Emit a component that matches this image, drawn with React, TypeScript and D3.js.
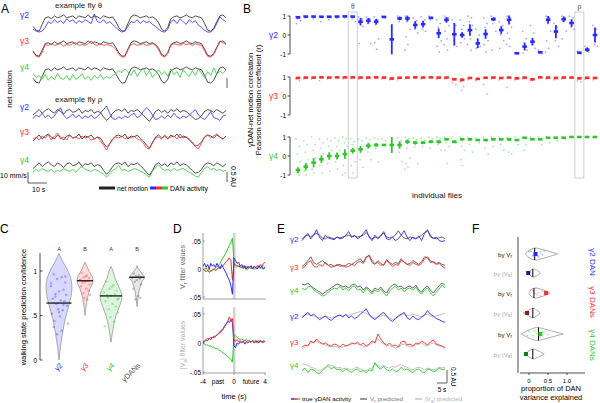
import React from "react";
import * as d3 from "d3";

const FONT = "'Liberation Sans', Arial, Helvetica, sans-serif";
const BLUE = "#2b2bff";
const RED = "#ff2b2b";
const GREEN = "#2ec82e";
const DARK = "#222";

// ---------------- Panel A: normalized traces ----------------
const NET_THETA = [0.35,0.15,0.1,0.45,0.8,0.85,0.75,0.9,0.8,0.85,0.95,0.8,0.85,0.9,0.75,0.9,0.85,0.8,0.95,0.8,0.9,0.85,0.75,0.9,0.85,0.8,0.85,0.6,0.3,0.1,0.12,0.5,0.85,0.95,0.9,0.8,0.85,0.9,0.8,0.85,0.75,0.55,0.2,0.1,0.3,0.75,0.85,0.9,0.8,0.85,0.95,0.85,0.8,0.9,0.85,0.8,0.5,0.15,0.1,0.25,0.6,0.9,0.95,0.8];
const G2_THETA = [0.2,0.1,0.05,0.1,0.3,0.6,0.5,0.7,0.55,0.65,0.5,0.75,0.6,0.7,0.5,0.65,0.55,0.7,0.6,0.5,1.0,0.6,0.55,0.7,0.5,0.6,0.45,0.3,0.15,0.05,0.1,0.35,0.6,0.55,0.7,0.5,0.65,0.55,0.6,0.45,0.35,0.2,0.08,0.05,0.2,0.6,0.7,0.5,0.75,0.6,0.45,0.7,0.55,0.65,0.4,0.3,0.15,0.05,0.05,0.2,0.5,0.85,0.7,0.6];
const G3_THETA = [0.4,0.1,0.05,0.3,0.75,0.7,0.8,0.7,0.75,0.8,0.65,0.75,0.7,0.8,0.85,0.7,0.75,0.7,0.8,0.95,0.75,0.7,0.8,0.7,0.75,0.7,0.65,0.5,0.2,0.05,0.08,0.45,0.75,0.8,0.7,0.75,0.8,0.7,0.75,0.8,0.7,0.45,0.12,0.05,0.25,0.7,0.8,0.75,0.7,0.8,0.75,0.8,0.7,0.8,0.75,0.7,0.4,0.1,0.05,0.2,0.55,0.95,0.85,0.75];
const G4_THETA = [0.6,0.4,0.5,0.3,0.55,0.25,0.45,0.3,0.6,0.35,0.3,0.5,0.25,0.55,0.3,0.4,0.6,0.3,0.45,0.25,0.5,0.35,0.55,0.3,0.45,0.35,0.5,0.6,0.75,0.65,0.85,0.7,0.5,0.8,0.45,0.7,0.9,0.5,0.75,0.4,0.6,0.8,0.55,0.7,0.45,0.85,0.55,0.7,0.4,0.8,0.6,0.45,0.75,0.5,0.85,0.6,0.4,0.7,0.5,0.9,0.55,0.75,0.6,0.8];
const NET_RHO = [0.5,0.65,0.8,0.6,0.75,0.85,0.7,0.6,0.8,0.7,0.55,0.75,0.8,0.65,0.7,0.85,0.6,0.75,0.7,0.8,0.6,0.7,0.65,0.4,0.2,0.35,0.6,0.75,0.8,0.7,0.85,0.6,0.75,0.7,0.8,0.65,0.5,0.3,0.15,0.4,0.7,0.8,0.65,0.75,0.6,0.8,0.7,0.85,0.65,0.75,0.7,0.55,0.4,0.25,0.3,0.45,0.7,0.8,0.75,0.65,0.8,0.7,0.6,0.75];
const G2_RHO = [0.3,0.5,0.4,0.6,0.35,0.5,0.3,0.45,0.7,0.9,0.5,0.3,0.4,0.55,0.35,0.5,0.3,0.45,0.35,0.5,0.3,0.4,0.6,0.8,1.0,0.6,0.3,0.25,0.4,0.3,0.45,0.35,0.5,0.6,0.35,0.45,0.7,0.9,0.75,0.5,0.25,0.3,0.45,0.3,0.5,0.35,0.6,0.4,0.3,0.45,0.35,0.5,0.65,0.8,0.5,0.35,0.25,0.45,0.7,0.35,0.3,0.2,0.45,0.5];
const G3_RHO = [0.6,0.7,0.55,0.75,0.65,0.8,0.55,0.75,0.9,0.6,0.7,0.55,0.8,0.65,0.7,0.6,0.75,0.65,0.7,0.55,0.6,0.7,0.5,0.3,0.05,0.35,0.6,0.7,0.65,0.75,0.6,0.7,0.65,0.75,0.6,0.55,0.4,0.15,0.1,0.45,0.65,0.7,0.6,0.8,0.65,0.7,0.75,0.6,0.85,0.65,0.7,0.6,0.45,0.2,0.1,0.4,0.7,0.8,0.65,0.75,0.85,0.7,0.6,0.75];
const G4_RHO = [0.3,0.45,0.35,0.5,0.4,0.35,0.45,0.3,0.4,0.35,0.5,0.4,0.35,0.45,0.3,0.5,0.6,0.45,0.4,0.35,0.45,0.4,0.3,0.2,0.05,0.2,0.4,0.5,0.65,0.4,0.45,0.35,0.4,0.5,0.45,0.35,0.3,0.15,0.05,0.35,0.55,0.7,0.5,0.4,0.45,0.35,0.5,0.4,0.45,0.5,0.4,0.3,0.2,0.1,0.05,0.3,0.5,0.6,0.45,0.5,0.4,0.45,0.35,0.4];

// ---------------- Panel B: per-fly correlations ----------------
const B2_MEAN = [0.93,0.97,0.97,0.96,0.96,0.97,0.98,0.97,0.7,0.75,0.7,0.95,-0.23,0.87,0.87,0.53,0.57,0.9,0.09,0.8,0.04,0.0,0.26,-0.44,0.05,0.83,0.26,0.8,-0.96,-0.61,-0.35,-0.91,0.8,0.18,0.83,0.63,-0.93,-0.77,0.0];
const B2_ERR = [0.05,0.03,0.03,0.03,0.03,0.03,0.03,0.03,0.2,0.15,0.15,0.03,0.8,0.1,0.15,0.2,0.18,0.06,0.25,0.15,0.6,0.15,0.3,0.25,0.25,0.1,0.2,0.25,0.03,0.2,0.2,0.05,0.2,0.35,0.15,0.2,0.04,0.12,0.4];
const B2_DOTS = [[0.98,0.9,0.85,0.75,0.6],[0.99,0.95,0.9],[0.99,0.96,0.85],[0.98,0.95,0.7],[0.99,0.92,0.8],[0.99,0.95,0.88],[0.99,0.96,0.9],[0.99,0.95,0.85,0.7],[0.95,0.85,0.6,0.45,-0.45],[0.95,0.85,0.6,-0.45],[0.95,0.8,0.55,-0.2,-0.4,-0.75],[0.99,0.9],[],[0.99,0.92,0.7],[0.99,0.9,0.7,0.3,-0.1,-0.5,-0.8],[0.9,0.75,0.3,0.1],[0.95,0.8,0.3,0.2],[0.99,0.92,0.8],[0.8,0.6,0.4,-0.3,-0.6,-0.9],[0.99,0.9,0.7,0.5,0.2,-0.2,-0.5,-0.8],[0.8,0.5,-0.3,-0.6],[0.8,0.5,0.3,-0.2,-0.4],[0.99,0.9,0.7,0.5,0.2,-0.2,-0.5,-0.8],[0.3,0.0,-0.2,-0.6,-0.7],[0.9,0.6,0.4,-0.3,-0.5,-0.9],[0.99,0.9,0.6,0.2,-0.8],[0.7,0.5,0.0,-0.3,-0.7],[0.99,0.9,0.7,0.4,0.1,-0.2,-0.5,-0.6],[-0.93,-0.99],[0.2,-0.2,-0.4,-0.8,-0.95],[0.5,0.1,-0.5,-0.7],[-0.8,-0.98],[0.99,0.9,0.6,0.2,-0.3,-0.7,-0.9],[0.6,0.4,-0.3,-0.6],[0.99,0.9,0.7,0.2,-0.2],[0.99,0.9,0.4,0.3],[-0.85,-0.99],[-0.6,-0.9],[0.5,0.3,-0.5,-0.6]];
const B3_MEAN = [0.95,0.97,0.97,0.98,0.97,0.98,0.98,0.98,0.97,0.97,0.98,0.97,0.92,0.96,0.97,0.98,0.97,0.98,0.97,0.97,0.88,0.85,0.95,0.9,0.96,0.97,0.95,0.97,0.93,0.97,0.88,0.98,0.97,0.95,0.97,0.97,0.93,0.96,0.95];
const B3_ERR = [0.05,0.03,0.03,0.03,0.03,0.03,0.03,0.03,0.04,0.03,0.03,0.03,0.05,0.04,0.03,0.03,0.03,0.03,0.04,0.04,0.06,0.08,0.04,0.05,0.04,0.03,0.04,0.03,0.05,0.03,0.06,0.03,0.03,0.04,0.03,0.03,0.05,0.04,0.04];
const B3_DOTS = [[0.9,0.8],[0.9],[0.88],[0.8],[0.9],[],[0.9],[0.92],[0.88],[0.9],[],[0.9],[0.85],[0.85],[0.9],[],[0.9],[],[0.88],[0.9],[0.7,0.6],[0.75,0.5,0.3],[0.85],[0.8],[0.6,0.1],[0.88],[0.85],[0.45],[0.85],[0.9],[0.8],[],[0.9],[0.85],[0.9],[],[0.8,0.75],[0.88],[0.85]];
const B4_MEAN = [-0.74,-0.56,-0.35,-0.17,0,0,0.1,0.28,0.35,0.54,0.58,0.58,0.58,0.58,0.75,0.7,0.7,0.75,0.75,0.88,0.75,0.88,0.88,0.84,0.84,0.88,0.88,0.88,0.84,0.96,0.88,0.88,0.96,0.96,0.96,1.0,1.0,1.0,1.0];
const B4_ERR = [0.15,0.2,0.25,0.2,0.2,0.18,0.25,0.15,0.18,0.15,0.1,0.05,0.42,0.2,0.12,0.1,0.08,0.08,0.1,0.06,0.08,0.06,0.06,0.05,0.06,0.05,0.06,0.08,0.05,0.04,0.04,0.04,0.04,0.03,0.04,0.02,0.02,0.02,0.02];
const B4_DOTS = [[0.9,0.5,0.1,-0.3,-0.9,-1.0],[0.8,0.6,0.2,-0.2,-0.8,-1.0],[1.0,0.6,0.3,-0.1,-0.7,-0.9],[0.9,0.7,0.4,0.1,-0.5,-0.9],[0.9,0.8,0.5,0.3,-0.4,-0.8],[0.95,0.8,0.5,0.3,-0.3,-0.7],[1.0,0.9,0.7,0.5,-0.5,-0.9,-1.0],[0.9,0.75,0.6,-0.3,-0.5,-0.9],[0.9,0.8,-0.2,-0.6],[0.95,0.85,0.2,-0.2],[0.95,0.9,0.4,-0.3],[0.9,0.8],[],[0.95,0.8,0.2,-0.3],[0.99,0.9,0.4,-0.1,-0.4,-0.6,-0.7],[0.95,0.85,0.5,-0.4],[0.95,0.8,0.5],[0.99,0.9,0.4],[0.99,0.9,0.6,0.3],[0.99,0.9,0.7,0.5,0.3,-0.4],[0.99,0.7],[0.99,0.9,0.5,0.3,-0.2,-0.5],[0.99,0.9,0.6,0.2],[0.95,0.7],[0.99,0.8,0.4,0.1],[0.99,0.9,0.5],[0.99,0.9,0.6,0.3],[0.99,0.85,0.2,0.1],[0.99,0.6],[0.99,0.6,0.3],[0.99],[0.99,0.6],[0.99,0.7],[0.99,0.8],[0.99,0.9],[0.99],[0.99],[0.99],[0.99]];
const B_TICKS = [1, 0, -1];
const THETA_FLY = 7;
const RHO_FLY = 36;

// ---------------- Panel C: prediction confidence ----------------
const C_GROUPS = ["γ2", "γ3", "γ4", "γDANs"];
const C_LETTERS = ["A", "B", "A", "B"];
const C_MEDIANS = [0.64, 0.89, 0.72, 0.93];
const C_SHAPES = [
  [[0,0],[0.15,1.5],[0.3,3.5],[0.45,6],[0.6,9.5],[0.75,12.5],[0.88,12.5],[1.0,9],[1.1,4],[1.2,0]],
  [[0.5,0],[0.6,1],[0.7,2.5],[0.8,5],[0.88,8],[0.93,7.5],[1.0,4],[1.05,2],[1.1,0]],
  [[0.2,0],[0.35,2],[0.5,5],[0.62,9],[0.72,11],[0.82,8],[0.92,4],[1.0,2],[1.05,0]],
  [[0.6,0],[0.7,1],[0.8,2.5],[0.88,5],[0.93,7.5],[0.98,4.5],[1.02,1.5],[1.06,0]],
];
const C_DOTS = [
  [0.96,0.93,0.91,0.87,0.86,0.79,0.77,0.74,0.73,0.69,0.67,0.66,0.63,0.61,0.57,0.56,0.52,0.49,0.44,0.41,0.37,0.33,0.29,0.94,0.83,0.62,0.54,0.71],
  [0.98,0.95,0.93,0.92,0.9,0.89,0.88,0.87,0.85,0.83,0.8,0.78,0.75,0.73,0.7,0.68,0.9,0.94],
  [0.88,0.84,0.8,0.78,0.76,0.74,0.72,0.7,0.68,0.66,0.63,0.6,0.57,0.53,0.48,0.43,0.38,0.82,0.73,0.69],
  [0.97,0.95,0.94,0.93,0.92,0.91,0.9,0.88,0.85,0.8,0.72,0.7,0.68],
];
const C_TICKS = [0, 0.5, 1];
const C_TICK_LABELS = ["0", ".5", "1"];

// ---------------- Panel D: filters ----------------
const D_TIME = [-4, 4];
const D_VR_BLUE = [0.005,0.01,0.003,0.008,0.0,0.01,0.005,0.008,0.003,0.01,0.005,0.0,0.008,0.003,-0.003,-0.008,-0.015,-0.02,-0.03,-0.045,0.02,0.015,0.01,0.012,0.005,0.008,0.002,0.006,0.0,0.005,0.002,0.006,0.0,0.005,0.003,0.0,0.006,0.002,0.005,0.0,0.004];
const D_VR_RED = [0,-0.003,-0.005,-0.002,-0.006,-0.004,-0.002,0,-0.003,0.0,0.002,0.004,0.003,0.006,0.01,0.013,0.016,0.02,0.015,-0.02,0.01,0.008,0.006,0.005,0.004,0.003,0.006,0.002,0.004,0.001,0.003,0.005,0.001,0.004,0.002,0.006,0.003,0.008,0.004,0.01,0.012];
const D_VR_GREEN = [0.0,-0.002,0.002,-0.003,0.0,-0.004,-0.002,0.0,0.002,0.004,0.006,0.01,0.016,0.02,0.025,0.03,0.036,0.042,0.048,0.055,0.01,0.005,0.003,0.006,0.002,0.004,0.0,0.003,-0.002,0.001,0.003,0.0,0.002,-0.001,0.002,0.0,0.003,0.001,0.002,0.0,0.002];
const D_VA_BLUE = [0,0.002,0.005,0.004,0.008,0.006,0.01,0.009,0.012,0.014,0.016,0.02,0.022,0.025,0.03,0.033,0.038,0.035,0.04,0.035,-0.005,-0.008,0.0,-0.002,0.002,0.0,0.003,-0.002,0.002,0.0,0.003,0.001,0.004,0.0,0.002,0.003,0.0,0.004,0.002,0.001,0.003];
const D_VA_RED = [0.002,0.004,0.006,0.008,0.007,0.01,0.009,0.012,0.011,0.014,0.016,0.018,0.02,0.024,0.028,0.032,0.038,0.045,0.04,0.042,0.005,0.003,0.006,0.002,0.004,0.001,0.003,0.005,0.002,0.0,0.003,0.002,0.004,0.001,0.003,0.0,0.002,0.004,0.001,0.003,0.002];
const D_VA_GREEN = [0,-0.002,-0.004,-0.003,-0.006,-0.005,-0.008,-0.007,-0.01,-0.009,-0.012,-0.013,-0.015,-0.017,-0.019,-0.021,-0.024,-0.026,-0.028,-0.033,0.015,0.012,0.01,0.008,0.006,0.007,0.005,0.004,0.006,0.003,0.005,0.002,0.004,0.003,0.005,0.002,0.004,0.003,0.002,0.004,0.003];
const D_YTICKS = [0.05, 0, -0.05];
const D_YTICK_LABELS = [".05", "0", "-.05"];
const D_XTICKS = [-4, 0, 4];

// ---------------- Panel E: predictions ----------------
const E1_TRUE = [0.3,0.5,0.7,0.4,0.6,0.9,0.5,0.3,0.6,0.45,0.4,0.35,0.5,0.4,0.45,0.6,0.8,0.5,0.6,0.4,0.5,0.7,0.9,0.5,0.3,0.6,0.4,0.55,0.8,0.4,0.35,0.5,0.3,0.4,0.6,0.85,0.5,0.3,0.5,0.4,0.55,0.3,0.7,0.85,0.6,0.4,0.5,0.3,0.25,0.3];
const E1_PRED = [0.4,0.55,0.6,0.5,0.65,0.7,0.6,0.45,0.4,0.5,0.45,0.4,0.5,0.45,0.5,0.55,0.6,0.5,0.55,0.5,0.55,0.6,0.75,0.55,0.4,0.5,0.45,0.6,0.7,0.5,0.45,0.5,0.6,0.85,0.6,0.45,0.4,0.5,0.45,0.4,0.5,0.6,0.75,0.9,0.5,0.45,0.4,0.45,0.5,0.4];
const E2_TRUE = [0.2,0.3,0.5,0.6,0.3,0.25,0.4,0.3,0.5,0.35,0.25,0.3,0.4,0.3,0.35,0.25,0.3,0.4,0.35,0.5,0.55,0.45,0.75,0.9,0.6,0.45,0.5,0.35,0.4,0.6,0.45,0.3,0.4,0.35,0.6,0.55,0.4,0.35,0.5,0.4,0.35,0.45,0.7,0.8,0.6,0.5,0.4,0.45,0.3,0.2];
const E2_PRED = [0.3,0.4,0.6,0.8,0.5,0.4,0.5,0.6,0.45,0.35,0.4,0.3,0.35,0.4,0.3,0.35,0.45,0.4,0.5,0.6,0.7,0.5,0.8,0.85,0.5,0.4,0.6,0.45,0.35,0.65,0.5,0.4,0.5,0.45,0.7,0.5,0.4,0.45,0.6,0.5,0.4,0.55,0.8,0.75,0.5,0.55,0.45,0.5,0.4,0.35];
const E3_TRUE = [0.6,0.5,0.65,0.7,0.5,0.4,0.3,0.2,0.25,0.4,0.5,0.6,0.55,0.7,0.5,0.6,0.45,0.65,0.7,0.5,0.55,0.35,0.6,0.45,0.3,0.5,0.4,0.55,0.35,0.2,0.45,0.6,0.7,0.5,0.6,0.4,0.55,0.6,0.5,0.65,0.4,0.3,0.5,0.6,0.35,0.2,0.4,0.55,0.75,0.6];
const E3_PRED = [0.8,0.75,0.85,0.7,0.6,0.5,0.4,0.3,0.4,0.5,0.6,0.7,0.8,0.75,0.65,0.7,0.6,0.75,0.8,0.65,0.7,0.5,0.65,0.55,0.4,0.6,0.5,0.65,0.45,0.35,0.6,0.75,0.8,0.65,0.7,0.55,0.65,0.7,0.6,0.75,0.5,0.4,0.6,0.7,0.5,0.35,0.55,0.7,0.85,0.75];
const E4_TRUE = [0.4,0.55,0.7,0.5,0.6,0.45,0.3,0.4,0.5,0.35,0.25,0.4,0.5,0.55,0.45,0.6,0.4,0.5,0.35,0.45,0.6,0.75,0.9,0.6,0.4,0.3,0.45,0.6,0.7,0.5,0.3,0.2,0.35,0.5,0.6,0.7,0.4,0.3,0.5,0.35,0.3,0.45,0.55,0.8,0.6,0.5,0.35,0.3,0.2,0.15];
const E4_PRED = [0.5,0.55,0.6,0.55,0.5,0.45,0.4,0.45,0.5,0.45,0.4,0.45,0.5,0.55,0.5,0.55,0.5,0.6,0.65,0.7,0.75,0.7,0.65,0.55,0.45,0.4,0.45,0.5,0.55,0.5,0.4,0.3,0.35,0.45,0.55,0.6,0.5,0.55,0.6,0.55,0.5,0.45,0.55,0.6,0.5,0.45,0.5,0.55,0.6,0.65];
const E5_TRUE = [0.3,0.4,0.35,0.6,0.5,0.7,0.55,0.45,0.5,0.4,0.35,0.45,0.4,0.3,0.45,0.35,0.4,0.5,0.45,0.55,0.4,0.5,0.35,0.45,0.6,0.5,0.95,0.7,0.5,0.4,0.5,0.35,0.4,0.3,0.55,0.6,0.4,0.45,0.35,0.5,0.45,0.6,0.5,0.4,0.55,0.65,0.45,0.4,0.35,0.25];
const E5_PRED = [0.2,0.3,0.4,0.5,0.55,0.6,0.5,0.45,0.4,0.35,0.3,0.35,0.3,0.25,0.3,0.35,0.4,0.45,0.5,0.45,0.4,0.35,0.3,0.4,0.5,0.6,0.7,0.55,0.45,0.35,0.4,0.3,0.25,0.3,0.4,0.45,0.35,0.3,0.35,0.4,0.45,0.5,0.4,0.35,0.45,0.5,0.4,0.35,0.3,0.3];
const E6_TRUE = [0.4,0.55,0.3,0.5,0.45,0.3,0.25,0.4,0.55,0.7,0.5,0.6,0.45,0.5,0.35,0.5,0.4,0.3,0.45,0.5,0.35,0.4,0.3,0.45,0.4,0.85,0.6,0.5,0.65,0.45,0.4,0.5,0.35,0.4,0.6,0.45,0.5,0.4,0.3,0.45,0.5,0.35,0.3,0.5,0.45,0.35,0.4,0.55,0.45,0.5];
const E6_PRED = [0.8,0.75,0.7,0.6,0.55,0.45,0.4,0.5,0.6,0.75,0.7,0.65,0.55,0.6,0.5,0.55,0.5,0.45,0.55,0.6,0.5,0.45,0.4,0.5,0.55,0.8,0.7,0.6,0.7,0.6,0.55,0.65,0.6,0.7,0.75,0.65,0.6,0.5,0.45,0.55,0.6,0.55,0.45,0.55,0.5,0.45,0.5,0.6,0.55,0.6];

// ---------------- Panel F: variance explained ----------------
const F_SHAPES = [
  [[-0.1,0],[0.0,3.5],[0.15,6],[0.3,5],[0.5,3],[0.75,0]],
  [[0.0,0],[0.05,3],[0.1,4],[0.2,3],[0.3,0]],
  [[0.0,0],[0.05,3],[0.15,5],[0.3,4],[0.45,2],[0.55,0]],
  [[-0.15,0],[0.0,3],[0.1,5],[0.2,3],[0.3,0]],
  [[-0.2,0],[0.0,4],[0.2,6.5],[0.4,5],[0.6,3],[0.9,0]],
  [[-0.1,0],[0.0,3],[0.1,5],[0.25,3],[0.4,0]],
];
const F_MEDIANS = [0.15, 0.1, 0.13, 0.1, 0.25, 0.1];
const F_FLY = [0.17, -0.02, 0.45, -0.05, 0.3, -0.08];
const F_DOTS = [
  [0.0,0.1,0.2,0.25,0.3,0.35,0.4,0.15,0.05,0.22],
  [],
  [0.1,0.2,0.25,0.3,0.35,0.15,0.05,0.4],
  [],
  [0.0,0.1,0.2,0.3,0.4,0.5,0.15,0.25,0.35,-0.05],
  [],
];
const F_XTICKS = [0, 0.5, 1.0];
const F_XTICK_LABELS = ["0", "0.5", "1.0"];

// ---------------- layout / style constants ----------------
const JIT = [-2, 1.5, -0.5, 2.5, -1.5, 0.5, -2.5, 1];
const JITC = [-6, 3, -2, 7, -9, 5, 0, -4, 8, -7, 2, 6, -3, 9, -1, 4, -8, 1, -5, 10];

function trace(data, x0, x1, top, bottom, lo = 0, hi = 1) {
  const x = d3.scaleLinear().domain([0, data.length - 1]).range([x0, x1]);
  const y = d3.scaleLinear().domain([lo, hi]).range([bottom, top]);
  return d3.line().x((_, i) => x(i)).y((d) => y(d))(data) || "";
}

function Sub({ base, sub, after = "" }) {
  return (
    <>
      {base}
      <tspan dy={1.5} fontSize="0.75em">{sub}</tspan>
      <tspan dy={-1.5}>{after}</tspan>
    </>
  );
}

export default function App() {
  const aRows = [
    { label: "γ2", color: BLUE, net: NET_THETA, dan: G2_THETA, top: 14, bottom: 33 },
    { label: "γ3", color: RED, net: NET_THETA, dan: G3_THETA, top: 40, bottom: 58 },
    { label: "γ4", color: GREEN, net: NET_THETA, dan: G4_THETA, top: 66, bottom: 85 },
    { label: "γ2", color: BLUE, net: NET_RHO, dan: G2_RHO, top: 106, bottom: 124 },
    { label: "γ3", color: RED, net: NET_RHO, dan: G3_RHO, top: 131, bottom: 151 },
    { label: "γ4", color: GREEN, net: NET_RHO, dan: G4_RHO, top: 159, bottom: 178 },
  ];

  const xB = d3.scaleLinear().domain([0, B2_MEAN.length - 1]).range([298, 595]);
  const bRows = [
    { label: "γ2", color: BLUE, mean: B2_MEAN, err: B2_ERR, dots: B2_DOTS, top: 16, bottom: 54 },
    { label: "γ3", color: RED, mean: B3_MEAN, err: B3_ERR, dots: B3_DOTS, top: 77, bottom: 115 },
    { label: "γ4", color: GREEN, mean: B4_MEAN, err: B4_ERR, dots: B4_DOTS, top: 137, bottom: 175 },
  ];

  const yC = d3.scaleLinear().domain([0, 1]).range([360, 271]);
  const xC = d3.scalePoint().domain(C_GROUPS).range([59, 137]);
  const cFill = ["#d9d9ff", "#ffdada", "#dcf5dc", "#e6e6e6"];
  const cDot = [BLUE, RED, GREEN, "#555"];

  const xD = d3.scaleLinear().domain(D_TIME).range([203, 265]);
  const yD1 = d3.scaleLinear().domain([-0.05, 0.05]).range([297, 241]);
  const yD2 = d3.scaleLinear().domain([-0.05, 0.05]).range([372, 314]);
  const dLine = (data, y) => {
    const t = d3.scaleLinear().domain([0, data.length - 1]).range(D_TIME);
    return d3.line().x((_, i) => xD(t(i))).y((d) => y(d))(data) || "";
  };

  const eRows = [
    { label: "γ2", color: BLUE, truth: E1_TRUE, pred: E1_PRED, pc: "#555", top: 228, bottom: 246, ly: 242 },
    { label: "γ3", color: RED, truth: E2_TRUE, pred: E2_PRED, pc: "#555", top: 253, bottom: 272, ly: 270 },
    { label: "γ4", color: GREEN, truth: E3_TRUE, pred: E3_PRED, pc: "#555", top: 280, bottom: 300, ly: 293 },
    { label: "γ2", color: BLUE, truth: E4_TRUE, pred: E4_PRED, pc: "#b8b8b8", top: 307, bottom: 325, ly: 319 },
    { label: "γ3", color: RED, truth: E5_TRUE, pred: E5_PRED, pc: "#b8b8b8", top: 333, bottom: 353, ly: 345 },
    { label: "γ4", color: GREEN, truth: E6_TRUE, pred: E6_PRED, pc: "#b8b8b8", top: 360, bottom: 378, ly: 368 },
  ];

  const xF = d3.scaleLinear().domain([0, 1]).range([529, 567]);
  const fY = [254, 273, 293, 313, 334, 354];
  const fColor = [BLUE, "#1a1a8c", RED, "#a01515", GREEN, "#157a15"];
  const fLight = ["#8f8fff", "#8f8fff", "#ff9090", "#ff9090", "#80dd80", "#80dd80"];

  return (
    <svg width={600} height={403} style={{ position: "absolute", left: 0, top: 0, background: "#fff" }} fontFamily={FONT}>
      {/* ================= Panel A ================= */}
      <text x={1} y={13} fontSize={12}>A</text>
      <text x={55} y={8} fontSize={8} fill="#222">example fly θ</text>
      <text x={55} y={102} fontSize={8} fill="#222">example fly ρ</text>
      <text transform="translate(12,89) rotate(-90)" fontSize={8} textAnchor="middle">net motion</text>
      {aRows.map((r, i) => (
        <g key={"a" + i}>
          <text x={20} y={r.top + 4} fontSize={8.5} fill={r.color}>{r.label}</text>
          <path d={trace(r.net, 33, 226, r.top, r.bottom)} fill="none" stroke={DARK} strokeWidth={0.8} />
          <path d={trace(r.dan, 33, 226, r.top, r.bottom)} fill="none" stroke={r.color} strokeWidth={0.8} />
        </g>
      ))}
      <line x1={227} x2={227} y1={78} y2={88} stroke="#333" strokeWidth={0.8} />
      <line x1={227} x2={227} y1={172} y2={182} stroke="#333" strokeWidth={0.8} />
      <text transform="translate(231,166) rotate(90)" fontSize={7}>0.5 AU</text>
      <text x={0} y={178} fontSize={7}>10 mm/s</text>
      <line x1={28} x2={28} y1={172} y2={183} stroke="#333" strokeWidth={0.8} />
      <line x1={28} x2={47} y1={183} y2={183} stroke="#333" strokeWidth={0.8} />
      <text x={32} y={192} fontSize={7}>10 s</text>
      <line x1={99} x2={115} y1={188} y2={188} stroke={DARK} strokeWidth={3} />
      <text x={117} y={191} fontSize={7.8} textLength={31} lengthAdjust="spacingAndGlyphs">net motion</text>
      <rect x={150} y={186.5} width={6} height={3} fill={BLUE} />
      <rect x={156} y={186.5} width={6} height={3} fill={RED} />
      <rect x={162} y={186.5} width={6} height={3} fill={GREEN} />
      <text x={170} y={191} fontSize={7.8} textLength={38} lengthAdjust="spacingAndGlyphs">DAN activity</text>

      {/* ================= Panel B ================= */}
      <text x={243} y={13} fontSize={12}>B</text>
      <text transform="translate(253,100) rotate(-90)" fontSize={7.5} textAnchor="middle">γDAN-net motion correlation</text>
      <text transform="translate(261,100) rotate(-90)" fontSize={7.5} textAnchor="middle">Pearson correlation coefficient (r)</text>
      {[THETA_FLY, RHO_FLY].map((f, i) => (
        <g key={"box" + i}>
          <rect x={xB(f) - 4.5} y={12} width={9} height={166} fill="none" stroke="#bbb" strokeWidth={0.7} />
          <text x={xB(f)} y={9} fontSize={7.5} textAnchor="middle" fontFamily="'Liberation Serif', serif" fill="#444">{i === 0 ? "θ" : "ρ"}</text>
        </g>
      ))}
      {bRows.map((r, ri) => {
        const y = d3.scaleLinear().domain([-1, 1]).range([r.bottom, r.top]);
        return (
          <g key={"b" + ri}>
            <line x1={290} x2={290} y1={y(1)} y2={y(-1)} stroke="#000" strokeWidth={0.7} />
            {B_TICKS.map((t) => (
              <g key={t}>
                <line x1={287.5} x2={290} y1={y(t)} y2={y(t)} stroke="#000" strokeWidth={0.7} />
                <text x={286} y={y(t) + 2.5} fontSize={6.5} textAnchor="end">{t}</text>
              </g>
            ))}
            <text x={269} y={y(0) + 3} fontSize={8.5} fill={r.color}>{r.label}</text>
            {r.dots.map((ds, c) =>
              ds.map((v, k) => (
                <rect key={c + "-" + k} x={xB(c) + JIT[k % JIT.length] - 0.75} y={y(v) - 0.75} width={1.5} height={1.5} fill={r.color} opacity={0.45} />
              ))
            )}
            {r.mean.map((m, c) => (
              <g key={"m" + c}>
                <line x1={xB(c)} x2={xB(c)} y1={y(Math.min(1.02, m + r.err[c]))} y2={y(Math.max(-1.02, m - r.err[c]))} stroke={r.color} strokeWidth={1.8} />
                <rect x={xB(c) - 2.3} y={y(m) - 1.3} width={4.6} height={2.6} fill={r.color} />
              </g>
            ))}
          </g>
        );
      })}
      <text x={437} y={198} fontSize={8} textAnchor="middle" fill="#111">individual flies</text>

      {/* ================= Panel C ================= */}
      <text x={0} y={233} fontSize={12}>C</text>
      <text transform="translate(26,307) rotate(-90)" fontSize={7.5} textAnchor="middle">walking state prediction confidence</text>
      <line x1={40} x2={40} y1={253} y2={360} stroke="#000" strokeWidth={0.7} />
      {C_TICKS.map((t, i) => (
        <g key={"ct" + i}>
          <line x1={40} x2={42.5} y1={yC(t)} y2={yC(t)} stroke="#000" strokeWidth={0.7} />
          <text x={37} y={yC(t) + 2.5} fontSize={6.5} textAnchor="end">{C_TICK_LABELS[i]}</text>
        </g>
      ))}
      {C_GROUPS.map((g, gi) => {
        const cx = xC(g);
        const shape = C_SHAPES[gi];
        const area = d3.area().y((d) => yC(d[0])).x0((d) => cx - d[1]).x1((d) => cx + d[1]).curve(d3.curveCatmullRom)(shape) || "";
        const hw = d3.max(shape, (d) => d[1]);
        return (
          <g key={"c" + gi}>
            <path d={area} fill={cFill[gi]} stroke="#8a8a8a" strokeWidth={0.7} />
            {C_DOTS[gi].map((v, k) => (
              <circle key={k} cx={cx + JITC[k % JITC.length] * (hw / 14)} cy={yC(v)} r={1.2} fill={cDot[gi]} opacity={0.35} />
            ))}
            <line x1={cx - hw} x2={cx + hw} y1={yC(C_MEDIANS[gi])} y2={yC(C_MEDIANS[gi])} stroke="#000" strokeWidth={1.2} />
            <text x={cx} y={251} fontSize={5.5} textAnchor="middle" fill="#333">{C_LETTERS[gi]}</text>
            <text transform={`translate(${cx + 4},${366}) rotate(-45)`} fontSize={7.5} textAnchor="end" fill={cDot[gi]}>{g}</text>
          </g>
        );
      })}

      {/* ================= Panel D ================= */}
      <text x={173} y={233} fontSize={12}>D</text>
      <text transform="translate(185,267) rotate(-90)" fontSize={7} textAnchor="middle" fill="#666"><Sub base="V" sub="r" after=" filter values" /></text>
      <text transform="translate(185,345) rotate(-90)" fontSize={7} textAnchor="middle" fill="#b0b0b0"><Sub base="|V" sub="a" after="| filter values" /></text>
      <rect x={233} y={233} width={2.5} height={66} fill="#d0d0d0" />
      <rect x={233} y={307} width={2.5} height={66} fill="#d0d0d0" />
      {[{ y: yD1, top: 233, bot: 299 }, { y: yD2, top: 307, bot: 373 }].map((p, pi) => (
        <g key={"dax" + pi}>
          <line x1={203} x2={203} y1={p.top} y2={p.bot} stroke="#777" strokeWidth={0.7} />
          <line x1={203} x2={266} y1={p.bot} y2={p.bot} stroke="#777" strokeWidth={0.7} />
          {D_YTICKS.map((t, i) => (
            <g key={i}>
              <line x1={203} x2={205} y1={p.y(t)} y2={p.y(t)} stroke="#777" strokeWidth={0.7} />
              <text x={201} y={p.y(t) + 2.5} fontSize={6.5} textAnchor="end">{D_YTICK_LABELS[i]}</text>
            </g>
          ))}
        </g>
      ))}
      <path d={dLine(D_VR_GREEN, yD1)} fill="none" stroke={GREEN} strokeWidth={1} />
      <path d={dLine(D_VR_RED, yD1)} fill="none" stroke={RED} strokeWidth={1} />
      <path d={dLine(D_VR_BLUE, yD1)} fill="none" stroke={BLUE} strokeWidth={1} />
      <path d={dLine(D_VA_GREEN, yD2)} fill="none" stroke={GREEN} strokeWidth={1} />
      <path d={dLine(D_VA_BLUE, yD2)} fill="none" stroke={BLUE} strokeWidth={1} />
      <path d={dLine(D_VA_RED, yD2)} fill="none" stroke={RED} strokeWidth={1} />
      {D_XTICKS.map((t) => (
        <g key={"dx" + t}>
          <line x1={xD(t)} x2={xD(t)} y1={373} y2={375} stroke="#777" strokeWidth={0.7} />
          <text x={xD(t)} y={384} fontSize={6.5} textAnchor="middle">{t}</text>
        </g>
      ))}
      <text x={218} y={384} fontSize={6.5} textAnchor="middle">past</text>
      <text x={251} y={384} fontSize={6.5} textAnchor="middle">future</text>
      <text x={234} y={399} fontSize={7.5} textAnchor="middle">time (s)</text>

      {/* ================= Panel E ================= */}
      <text x={277} y={233} fontSize={12}>E</text>
      {eRows.map((r, i) => (
        <g key={"e" + i}>
          <text x={290} y={r.ly} fontSize={8} fill={r.color}>{r.label}</text>
          <path d={trace(r.pred, 302, 445, r.top, r.bottom)} fill="none" stroke={r.pc} strokeWidth={0.9} />
          <path d={trace(r.truth, 302, 445, r.top, r.bottom)} fill="none" stroke={r.color} strokeWidth={0.9} />
        </g>
      ))}
      <line x1={447} x2={447} y1={370} y2={383} stroke="#333" strokeWidth={0.8} />
      <line x1={437} x2={447} y1={383} y2={383} stroke="#333" strokeWidth={0.8} />
      <text x={442} y={392} fontSize={6.5} textAnchor="middle">5 s</text>
      <text transform="translate(451,367) rotate(90)" fontSize={6.5}>0.5 AU</text>
      <line x1={291} x2={294} y1={399} y2={399} stroke={BLUE} strokeWidth={1.5} />
      <line x1={294} x2={297} y1={399} y2={399} stroke={RED} strokeWidth={1.5} />
      <line x1={297} x2={300} y1={399} y2={399} stroke={GREEN} strokeWidth={1.5} />
      <text x={302} y={401} fontSize={6.2}>true γDAN activity</text>
      <line x1={360} x2={367} y1={399} y2={399} stroke="#555" strokeWidth={1.2} />
      <text x={370} y={401} fontSize={6.2} fill="#777"><Sub base="V" sub="r" after=" predicted" /></text>
      <line x1={415} x2={422} y1={399} y2={399} stroke="#b8b8b8" strokeWidth={1.2} />
      <text x={425} y={401} fontSize={6.2} fill="#b0b0b0"><Sub base="|V" sub="a" after="| predicted" /></text>

      {/* ================= Panel F ================= */}
      <text x={472} y={233} fontSize={12}>F</text>
      <line x1={518} x2={518} y1={237} y2={373} stroke="#000" strokeWidth={0.7} />
      <line x1={520} x2={585} y1={373} y2={373} stroke="#000" strokeWidth={0.7} />
      {F_XTICKS.map((t, i) => (
        <g key={"fx" + i}>
          <line x1={xF(t)} x2={xF(t)} y1={373} y2={375} stroke="#000" strokeWidth={0.7} />
          <text x={xF(t)} y={383} fontSize={6} textAnchor="middle">{F_XTICK_LABELS[i]}</text>
        </g>
      ))}
      <text x={551} y={391} fontSize={7.5} textAnchor="middle">proportion of DAN</text>
      <text x={551} y={400} fontSize={7.5} textAnchor="middle">variance explained</text>
      {F_SHAPES.map((shape, ri) => {
        const cy = fY[ri];
        const area = d3.area().x((d) => xF(d[0])).y0((d) => cy - d[1]).y1((d) => cy + d[1]).curve(d3.curveCatmullRom)(shape) || "";
        const hw = d3.max(shape, (d) => d[1]);
        const isVr = ri % 2 === 0;
        return (
          <g key={"f" + ri}>
            <text x={512} y={cy + 2.5} fontSize={6.2} textAnchor="end" fill={isVr ? "#111" : "#aaa"}>
              {isVr ? <Sub base="by V" sub="r" /> : <Sub base="by |V" sub="a" after="|" />}
            </text>
            <path d={area} fill="#fff" stroke="#8a8a8a" strokeWidth={0.7} />
            {F_DOTS[ri].map((v, k) => (
              <circle key={k} cx={xF(v)} cy={cy + JIT[k % JIT.length] * 1.2} r={1} fill={fLight[ri]} opacity={0.6} />
            ))}
            <line x1={xF(F_MEDIANS[ri])} x2={xF(F_MEDIANS[ri])} y1={cy - hw} y2={cy + hw} stroke="#000" strokeWidth={1} />
            <rect x={xF(F_FLY[ri]) - 2} y={cy - 2} width={4} height={4} fill={fColor[ri]} />
          </g>
        );
      })}
      <text transform="translate(590,262) rotate(90)" fontSize={8} textAnchor="middle" fill={BLUE}>γ2 DAN</text>
      <text transform="translate(590,302) rotate(90)" fontSize={8} textAnchor="middle" fill={RED}>γ3 DANs</text>
      <text transform="translate(590,345) rotate(90)" fontSize={8} textAnchor="middle" fill={GREEN}>γ4 DANs</text>
    </svg>
  );
}
